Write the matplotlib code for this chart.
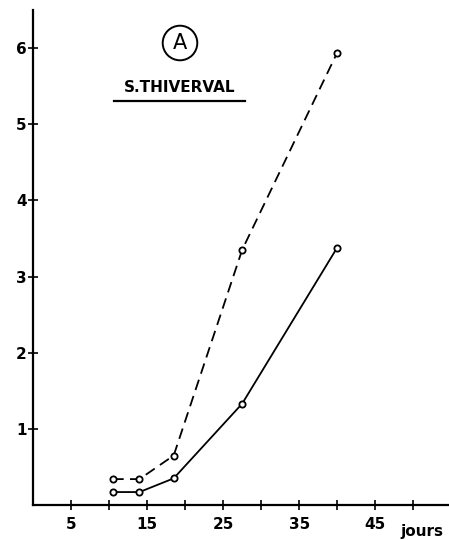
import matplotlib
matplotlib.use("Agg")
import matplotlib.pyplot as plt

# jours (x) and valeurs (y)
jours = [10.5, 14, 18.5, 27.5, 40]
serie_tiret = [0.34, 0.34, 0.65, 3.35, 5.94]   # dashed curve
serie_pleine = [0.17, 0.17, 0.35, 1.33, 3.38]  # solid curve

x_labels = [5, 15, 25, 35, 45]
x_minor = [10, 20, 30, 40, 50]
y_ticks = [1, 2, 3, 4, 5, 6]

W, H = 449, 540
fig = plt.figure(figsize=(W / 100, H / 100), dpi=100)
ax = fig.add_axes([33 / W, 35 / H, 1 - 33 / W, 495 / H])

ax.plot(jours, serie_tiret, color="black", lw=1.3, ls=(0, (6, 3.5)),
        marker="o", ms=4.5, mfc="white", mew=1.3)
ax.plot(jours, serie_pleine, color="black", lw=1.3,
        marker="o", ms=4.5, mfc="white", mew=1.3)

ax.set_xlim(0, 54.7)
ax.set_ylim(0, 6.5)

for s in ["top", "right"]:
    ax.spines[s].set_visible(False)
for s in ["left", "bottom"]:
    ax.spines[s].set_linewidth(1.6)

ax.set_xticks(x_labels)
ax.set_xticks(x_minor, minor=True)
ax.set_yticks(y_ticks)
ax.tick_params(axis="both", which="both", direction="inout", length=7, width=1.2)
ax.tick_params(axis="x", pad=5)
ax.tick_params(axis="y", pad=1)
for lab in ax.get_xticklabels() + ax.get_yticklabels():
    lab.set_fontweight("bold")
    lab.set_fontsize(11)

fig.text(422, 1, "jours", transform=None, ha="center", va="bottom",
         fontsize=11, fontweight="bold")

# circled label and station name
fig.text(180, H - 43, "A", transform=None, ha="center", va="center",
         fontsize=15, bbox=dict(boxstyle="circle,pad=0.35", fc="white", ec="black", lw=1.4))
fig.text(180, H - 88, "S.THIVERVAL", transform=None, ha="center", va="center",
         fontsize=11, fontweight="bold")
fig.add_artist(plt.Line2D([114 / W, 245 / W], [1 - 101 / H, 1 - 101 / H],
                          color="black", lw=1.6, transform=fig.transFigure))

fig.savefig("out.png", dpi=100)
